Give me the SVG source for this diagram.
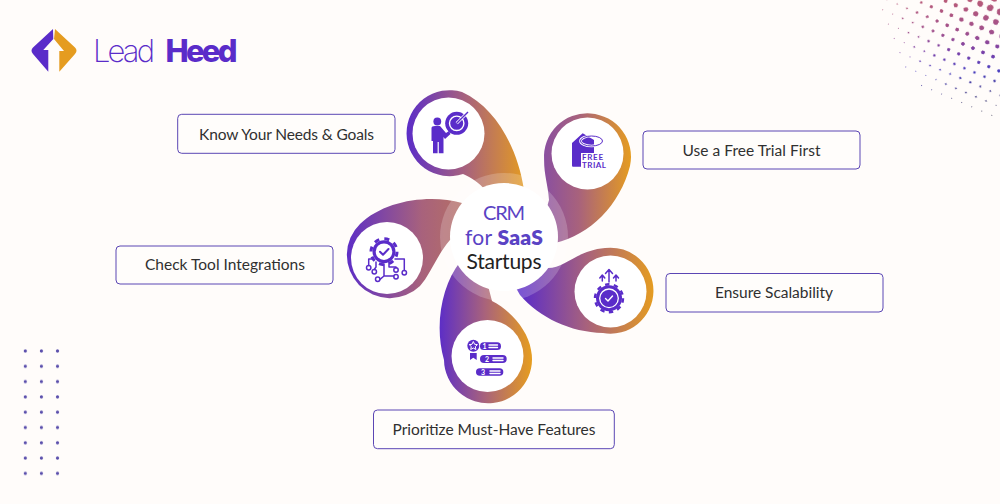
<svg xmlns="http://www.w3.org/2000/svg" width="1000" height="504" viewBox="0 0 1000 504">
<style>
text{font-family:"Lato","Liberation Sans",sans-serif}
.logo{font-family:"Inter","Liberation Sans",sans-serif;font-size:31px;fill:#5a2cc9}
.box{fill:#fffdfb;stroke:#5b46b4;stroke-width:1}
.lbl{font-size:15.5px;fill:#303030;text-anchor:middle}
.inner{fill:#fff}
.ic{fill:#5a2cc9}
.icl{fill:none;stroke:#5a2cc9;stroke-width:1.5;stroke-linecap:round;stroke-linejoin:round}
.wl{fill:none;stroke:#fff;stroke-width:1.4;stroke-linecap:round;stroke-linejoin:round}
</style>
<defs>
<linearGradient id="g1" gradientUnits="userSpaceOnUse" x1="406" y1="0" x2="526" y2="0"><stop offset="0" stop-color="#5a2cc9"/><stop offset=".5" stop-color="#a8627c"/><stop offset="1" stop-color="#e59c20"/></linearGradient>
<linearGradient id="g2" gradientUnits="userSpaceOnUse" x1="544" y1="0" x2="631" y2="0"><stop offset="0" stop-color="#8a4fa0"/><stop offset=".4" stop-color="#a8627c"/><stop offset="1" stop-color="#e59c20"/></linearGradient>
<linearGradient id="g3" gradientUnits="userSpaceOnUse" x1="344" y1="0" x2="500" y2="0"><stop offset="0" stop-color="#5a2cc9"/><stop offset=".5" stop-color="#a8627c"/><stop offset="1" stop-color="#c07a50"/></linearGradient>
<linearGradient id="g4" gradientUnits="userSpaceOnUse" x1="520" y1="0" x2="654" y2="0"><stop offset="0" stop-color="#5a2cc9"/><stop offset=".5" stop-color="#a8627c"/><stop offset="1" stop-color="#e59c20"/></linearGradient>
<linearGradient id="g5" gradientUnits="userSpaceOnUse" x1="438" y1="0" x2="531" y2="0"><stop offset="0" stop-color="#5a2cc9"/><stop offset=".5" stop-color="#a8627c"/><stop offset="1" stop-color="#e59c20"/></linearGradient>
<linearGradient id="hg" gradientUnits="userSpaceOnUse" x1="0" y1="0" x2="0" y2="115"><stop offset="0" stop-color="#b85a78"/><stop offset=".28" stop-color="#a04f8c"/><stop offset=".45" stop-color="#7a40a8"/><stop offset=".62" stop-color="#4a3fc0"/><stop offset="1" stop-color="#3c3c55"/></linearGradient>
<pattern id="d0" patternUnits="userSpaceOnUse" width="10.9" height="10.9" patternTransform="translate(990 8) rotate(23) translate(-5.45 -5.45)"><circle cx="5.45" cy="5.45" r=".5" fill="#fff"/></pattern>
<pattern id="d1" patternUnits="userSpaceOnUse" width="10.9" height="10.9" patternTransform="translate(990 8) rotate(23) translate(-5.45 -5.45)"><circle cx="5.45" cy="5.45" r=".85" fill="#fff"/></pattern>
<pattern id="d2" patternUnits="userSpaceOnUse" width="10.9" height="10.9" patternTransform="translate(990 8) rotate(23) translate(-5.45 -5.45)"><circle cx="5.45" cy="5.45" r="1.15" fill="#fff"/></pattern>
<pattern id="d3" patternUnits="userSpaceOnUse" width="10.9" height="10.9" patternTransform="translate(990 8) rotate(23) translate(-5.45 -5.45)"><circle cx="5.45" cy="5.45" r="1.45" fill="#fff"/></pattern>
<pattern id="d4" patternUnits="userSpaceOnUse" width="10.9" height="10.9" patternTransform="translate(990 8) rotate(23) translate(-5.45 -5.45)"><circle cx="5.45" cy="5.45" r="1.75" fill="#fff"/></pattern>
<pattern id="d5" patternUnits="userSpaceOnUse" width="10.9" height="10.9" patternTransform="translate(990 8) rotate(23) translate(-5.45 -5.45)"><circle cx="5.45" cy="5.45" r="2.1" fill="#fff"/></pattern>
<pattern id="d6" patternUnits="userSpaceOnUse" width="10.9" height="10.9" patternTransform="translate(990 8) rotate(23) translate(-5.45 -5.45)"><circle cx="5.45" cy="5.45" r="2.5" fill="#fff"/></pattern>
<pattern id="d7" patternUnits="userSpaceOnUse" width="10.9" height="10.9" patternTransform="translate(990 8) rotate(23) translate(-5.45 -5.45)"><circle cx="5.45" cy="5.45" r="3" fill="#fff"/></pattern>
<pattern id="d8" patternUnits="userSpaceOnUse" width="10.9" height="10.9" patternTransform="translate(990 8) rotate(23) translate(-5.45 -5.45)"><circle cx="5.45" cy="5.45" r="3.5" fill="#fff"/></pattern>
<pattern id="ld" patternUnits="userSpaceOnUse" x="17.25" y="343.35" width="16.1" height="15.3"><circle cx="8.05" cy="7.65" r="1.6" fill="#5a4eac"/></pattern>
<mask id="hm" maskUnits="userSpaceOnUse" x="870" y="0" width="130" height="125">
<circle cx="1003" cy="-3" r="122" fill="url(#d0)"/><circle cx="1003" cy="-3" r="106" fill="url(#d1)"/><circle cx="1003" cy="-3" r="92" fill="url(#d2)"/><circle cx="1003" cy="-3" r="78" fill="url(#d3)"/><circle cx="1003" cy="-3" r="64" fill="url(#d4)"/><circle cx="1003" cy="-3" r="50" fill="url(#d5)"/><circle cx="1003" cy="-3" r="38" fill="url(#d6)"/><circle cx="1003" cy="-3" r="26" fill="url(#d7)"/><circle cx="1003" cy="-3" r="15" fill="url(#d8)"/>
</mask>
</defs>
<rect width="1000" height="504" fill="#fffcfa"/>
<rect x="870" y="0" width="130" height="125" fill="url(#hg)" mask="url(#hm)"/>
<rect x="17.25" y="343.35" width="48.3" height="137.7" fill="url(#ld)"/>

<g id="logo">
<path d="M53 29 L33 47.5 Q30 50.7 33 54 L48.3 71.7 V50 H43.3 L53.3 39 Z" fill="#5a2cc9"/>
<path d="M55 29 L75 47.5 Q78 50.7 75 54 L59.3 71.7 V51 H64 L54 39 Z" fill="#e59c20"/>
<text class="logo" x="93" y="61.5" font-weight="200" textLength="62">Lead</text>
<text class="logo" x="165.5" y="61.5" font-weight="800" textLength="72">Heed</text>
</g>

<g id="node-needs">
<path d="M500 205 L524 190 C518 150 497 108 462 92 A43 43 0 1 0 463 174 C470 177 480 183 485 190 Z" fill="url(#g1)"/>
<circle class="inner" cx="448.5" cy="133.5" r="36"/>
<circle class="ic" cx="456.7" cy="123.3" r="11.5"/>
<circle cx="456.7" cy="123.3" r="7.2" fill="none" stroke="#fff" stroke-width="1.4"/>
<circle cx="456.7" cy="123.3" r="3.6" class="ic"/>
<path d="M456.7 123.3 L467 113" stroke="#fff" stroke-width="3" fill="none"/>
<path d="M456.7 123.3 L468 112" stroke="#5a2cc9" stroke-width="1.4" fill="none"/>
<circle class="ic" cx="437.3" cy="121.5" r="3.9"/>
<path class="ic" d="M431.5 128 Q431.5 126 435 126 H440 L446 133 L449 131 L450.5 134 L445 139 L443.5 137 V153.3 H438.8 V142 H437.6 V153.3 H433 V141 H431.5 Z"/>
<rect class="box" x="177.7" y="114.3" width="217.3" height="39" rx="4"/>
<text class="lbl" x="286.5" y="139.5" textLength="175">Know Your Needs &amp; Goals</text>
</g>

<g id="node-trial">
<path d="M535 250 L555 243 C590 235 620 205 630 166 A43.5 43.5 0 1 0 544.1 160 C544 175 548 185 549 200 Z" fill="url(#g2)"/>
<circle class="inner" cx="587.5" cy="153.5" r="36"/>
<path class="ic" d="M572 143 L582.7 133.3 L594 140 V153 H581 V166.7 H573 Q572 166.7 572 165.5 Z"/>
<ellipse cx="591.5" cy="141" rx="11" ry="5" fill="none" stroke="#fff" stroke-width="2.6"/>
<ellipse cx="591.5" cy="141" rx="11" ry="5" fill="none" stroke="#5a2cc9" stroke-width="1"/>
<text x="582" y="160" font-size="8" font-weight="700" fill="#5a2cc9" textLength="21">FREE</text>
<text x="582" y="168" font-size="8" font-weight="700" fill="#5a2cc9" textLength="24">TRIAL</text>
<rect class="box" x="643" y="131" width="217" height="38" rx="4"/>
<text class="lbl" x="751.5" y="156" textLength="138">Use a Free Trial First</text>
</g>

<g id="node-integrations">
<path d="M500 230 L462 203 C430 194 385 200 360 224 A43 43 0 1 0 420 286 C430 275 437 255 450 240 Z" fill="url(#g3)"/>
<circle class="inner" cx="387" cy="258" r="36"/>
<circle class="ic" cx="384" cy="251.7" r="11.5"/>
<circle cx="384" cy="251.7" r="13" fill="none" stroke="#5a2cc9" stroke-width="3" stroke-dasharray="5 5.2"/>
<circle cx="384" cy="251.7" r="8.3" fill="#fff"/>
<path d="M380 251.7 L383 254.8 L388.5 249" fill="none" stroke="#5a2cc9" stroke-width="2" stroke-linecap="round" stroke-linejoin="round"/>
<path class="icl" d="M373 259 H368.7 V265.5 M376 262 V267 L374.3 269.5 M384 264 V276 L380 279.3 M389 262 V267 H396 V268 M384 276 H393.8 M395 259 H404.3 V270.5"/>
<circle class="icl" cx="368.7" cy="267.7" r="2.2"/><circle class="icl" cx="374.3" cy="271.7" r="2.2"/><circle class="icl" cx="377.7" cy="279.3" r="2.2"/><circle class="icl" cx="396" cy="270" r="2.2"/><circle class="icl" cx="396" cy="276.7" r="2.2"/><circle class="icl" cx="404.3" cy="272.7" r="2.2"/>
<rect class="box" x="116" y="246" width="217" height="38" rx="4"/>
<text class="lbl" x="225" y="270" textLength="160">Check Tool Integrations</text>
</g>

<g id="node-scalability">
<path d="M500 260 L548 268 C565 268 578 250 605 248 A43 43 0 1 1 603 333 C570 332 540 318 520 295 Z" fill="url(#g4)"/>
<circle class="inner" cx="610.5" cy="291.5" r="36"/>
<circle class="ic" cx="609" cy="298.3" r="13"/>
<circle cx="609" cy="298.3" r="14" fill="none" stroke="#5a2cc9" stroke-width="2.4" stroke-dasharray="4.4 4.4"/>
<circle cx="609" cy="298.3" r="9.3" fill="none" stroke="#fff" stroke-width="1.3"/>
<path class="wl" d="M605.5 298.5 L608 301 L612.5 296"/>
<path class="icl" d="M609 270 V282 M605.5 273.5 L609 269.5 L612.5 273.5 M602.3 276 V281 M599.8 278 L602.3 275 L604.8 278 M616 276 V281 M613.5 278 L616 275 L618.5 278"/>
<rect class="box" x="666" y="273.5" width="217" height="38.5" rx="4"/>
<text class="lbl" x="774" y="298" textLength="118">Ensure Scalability</text>
</g>

<g id="node-features">
<path d="M480 255 L460 262 C442 285 434 325 444 360 A44 44 0 1 0 531 350 C528 330 510 310 492 301 Z" fill="url(#g5)"/>
<circle class="inner" cx="487.5" cy="356" r="36"/>
<circle class="ic" cx="473.3" cy="345.7" r="6"/>
<path d="M473.3 341.5 L474.6 344.3 L477.4 344.6 L475.3 346.6 L475.9 349.5 L473.3 348 L470.7 349.5 L471.3 346.6 L469.2 344.6 L472 344.3 Z" fill="none" stroke="#fff" stroke-width="1"/>
<path class="ic" d="M470 353 H476.7 V360 L473.3 357.8 L470 360 Z"/>
<rect class="ic" x="480" y="342.3" width="21" height="7.7" rx="3.85"/>
<rect class="ic" x="480" y="355" width="26.7" height="8" rx="4"/>
<rect class="ic" x="476" y="368.3" width="27.3" height="7.5" rx="3.75"/>
<text x="482.5" y="348.7" font-size="7" font-weight="700" fill="#fff">1</text>
<text x="485" y="361.6" font-size="7" font-weight="700" fill="#fff">2</text>
<text x="481" y="374.7" font-size="7" font-weight="700" fill="#fff">3</text>
<path class="wl" d="M489 345 H497.5 M489 347.5 H497.5 M493 358 H503 M493 360.5 H503 M490 371 H500 M490 373.5 H500" stroke-width="1"/>
<rect class="box" x="373.5" y="410" width="240.8" height="38.7" rx="4"/>
<text class="lbl" x="494" y="435" textLength="203">Prioritize Must-Have Features</text>
</g>

<g id="node-center">
<circle cx="504" cy="237" r="64" fill="#fff" fill-opacity=".2"/>
<circle cx="504" cy="237" r="54" fill="#fff"/>
<text x="504" y="220" font-size="20" fill="#5a43c4" text-anchor="middle" textLength="42">CRM</text>
<text x="504" y="245" font-size="21" fill="#5a43c4" text-anchor="middle" textLength="78">for <tspan font-weight="800">SaaS</tspan></text>
<text x="504" y="269" font-size="21" fill="#222" text-anchor="middle" textLength="75">Startups</text>
</g>
</svg>
